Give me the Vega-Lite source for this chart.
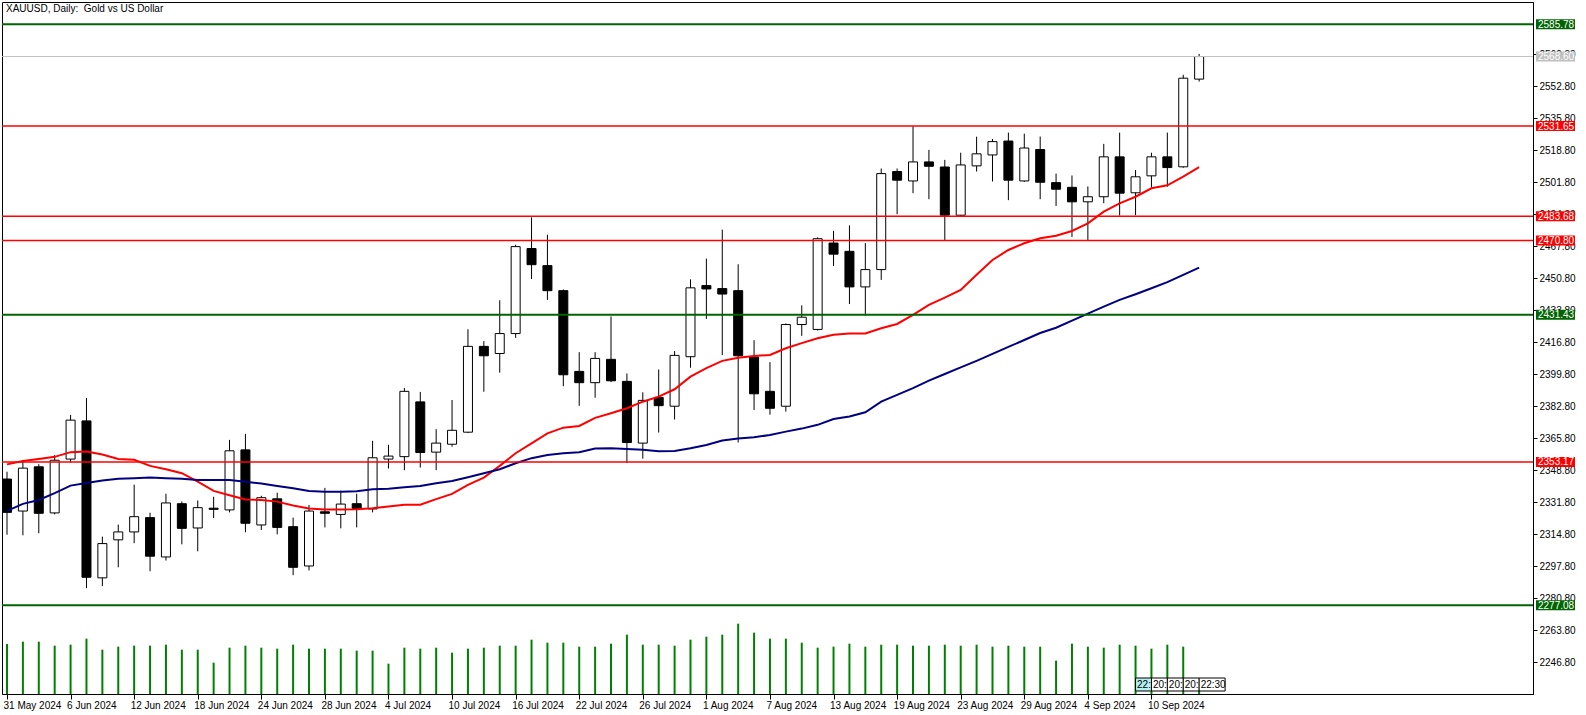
{
  "$schema": "https://vega.github.io/schema/vega-lite/v6.json",
  "width": 1531,
  "height": 692,
  "autosize": {"type": "none"},
  "padding": {"left": 2, "top": 2, "right": 53, "bottom": 21},
  "background": "#ffffff",
  "title": {"text": "XAUUSD, Daily:\u00a0 Gold vs US Dollar", "anchor": "start", "frame": "group", "offset": -11, "baseline": "alphabetic", "dx": 4, "dy": 9, "font": "Liberation Sans", "fontSize": 10, "fontWeight": "normal", "color": "#000000"},
  "config": {
    "view": {"stroke": "#000000", "strokeWidth": 1},
    "axis": {"grid": false, "labelFont": "Liberation Sans", "labelFontSize": 10, "labelColor": "#000000", "tickColor": "#000000", "domainColor": "#000000", "domainWidth": 1, "labelOverlap": false, "labelFlush": false, "labelBound": false}
  },
  "datasets": {
    "bars": [
      {"date":"2024-05-31","i":0,"open":2344.1,"high":2348.0,"low":2314.5,"close":2326.4,"ma_fast":2351.9,"ma_slow":2327.2,"volume":150000},
      {"date":"2024-06-03","i":1,"open":2327.1,"high":2354.2,"low":2314.2,"close":2349.9,"ma_fast":2353.7,"ma_slow":2330.9,"volume":157000},
      {"date":"2024-06-04","i":2,"open":2350.6,"high":2352.0,"low":2315.3,"close":2325.9,"ma_fast":2354.8,"ma_slow":2333.0,"volume":157000},
      {"date":"2024-06-05","i":3,"open":2326.1,"high":2356.8,"low":2325.3,"close":2354.1,"ma_fast":2355.9,"ma_slow":2336.6,"volume":145000},
      {"date":"2024-06-06","i":4,"open":2354.7,"high":2378.2,"low":2352.9,"close":2375.4,"ma_fast":2358.4,"ma_slow":2340.6,"volume":148000},
      {"date":"2024-06-07","i":5,"open":2375.0,"high":2387.2,"low":2286.1,"close":2291.9,"ma_fast":2358.7,"ma_slow":2342.0,"volume":166000},
      {"date":"2024-06-10","i":6,"open":2291.6,"high":2313.5,"low":2287.2,"close":2309.8,"ma_fast":2357.1,"ma_slow":2343.3,"volume":133000},
      {"date":"2024-06-11","i":7,"open":2311.8,"high":2319.9,"low":2297.2,"close":2316.0,"ma_fast":2354.8,"ma_slow":2344.2,"volume":142000},
      {"date":"2024-06-12","i":8,"open":2316.0,"high":2341.1,"low":2310.0,"close":2324.1,"ma_fast":2354.3,"ma_slow":2344.5,"volume":145000},
      {"date":"2024-06-13","i":9,"open":2323.6,"high":2326.2,"low":2295.1,"close":2303.1,"ma_fast":2351.1,"ma_slow":2344.9,"volume":145000},
      {"date":"2024-06-14","i":10,"open":2302.7,"high":2336.3,"low":2300.8,"close":2331.4,"ma_fast":2349.3,"ma_slow":2344.5,"volume":148000},
      {"date":"2024-06-17","i":11,"open":2331.0,"high":2332.2,"low":2309.4,"close":2317.9,"ma_fast":2347.2,"ma_slow":2344.2,"volume":133000},
      {"date":"2024-06-18","i":12,"open":2318.1,"high":2332.7,"low":2305.7,"close":2328.9,"ma_fast":2342.7,"ma_slow":2343.6,"volume":133000},
      {"date":"2024-06-19","i":13,"open":2328.6,"high":2334.7,"low":2323.4,"close":2328.0,"ma_fast":2337.8,"ma_slow":2343.6,"volume":94000},
      {"date":"2024-06-20","i":14,"open":2327.7,"high":2364.9,"low":2326.4,"close":2359.1,"ma_fast":2335.5,"ma_slow":2343.6,"volume":139000},
      {"date":"2024-06-21","i":15,"open":2359.6,"high":2368.1,"low":2315.8,"close":2320.6,"ma_fast":2333.2,"ma_slow":2342.7,"volume":145000},
      {"date":"2024-06-24","i":16,"open":2319.7,"high":2335.2,"low":2317.0,"close":2334.2,"ma_fast":2333.0,"ma_slow":2341.7,"volume":139000},
      {"date":"2024-06-25","i":17,"open":2333.6,"high":2336.8,"low":2314.7,"close":2318.4,"ma_fast":2332.1,"ma_slow":2340.4,"volume":136000},
      {"date":"2024-06-26","i":18,"open":2318.8,"high":2323.6,"low":2293.0,"close":2297.2,"ma_fast":2330.0,"ma_slow":2339.2,"volume":148000},
      {"date":"2024-06-27","i":19,"open":2297.9,"high":2330.3,"low":2295.5,"close":2327.1,"ma_fast":2328.4,"ma_slow":2337.8,"volume":136000},
      {"date":"2024-06-28","i":20,"open":2326.7,"high":2339.4,"low":2318.4,"close":2325.9,"ma_fast":2327.9,"ma_slow":2337.4,"volume":136000},
      {"date":"2024-07-01","i":21,"open":2325.3,"high":2337.9,"low":2317.9,"close":2330.8,"ma_fast":2327.9,"ma_slow":2337.4,"volume":136000},
      {"date":"2024-07-02","i":22,"open":2331.0,"high":2336.3,"low":2318.4,"close":2328.5,"ma_fast":2328.1,"ma_slow":2337.6,"volume":130000},
      {"date":"2024-07-03","i":23,"open":2328.2,"high":2364.4,"low":2326.4,"close":2355.4,"ma_fast":2328.6,"ma_slow":2338.7,"volume":130000},
      {"date":"2024-07-04","i":24,"open":2354.7,"high":2362.3,"low":2349.7,"close":2356.3,"ma_fast":2329.5,"ma_slow":2339.0,"volume":91000},
      {"date":"2024-07-05","i":25,"open":2356.0,"high":2392.5,"low":2348.8,"close":2390.7,"ma_fast":2330.4,"ma_slow":2339.8,"volume":139000},
      {"date":"2024-07-08","i":26,"open":2385.1,"high":2390.4,"low":2350.2,"close":2358.2,"ma_fast":2330.5,"ma_slow":2340.4,"volume":136000},
      {"date":"2024-07-09","i":27,"open":2358.4,"high":2370.6,"low":2348.8,"close":2363.2,"ma_fast":2333.4,"ma_slow":2341.9,"volume":139000},
      {"date":"2024-07-10","i":28,"open":2362.6,"high":2386.1,"low":2361.3,"close":2370.0,"ma_fast":2336.2,"ma_slow":2343.1,"volume":124000},
      {"date":"2024-07-11","i":29,"open":2369.0,"high":2423.7,"low":2368.5,"close":2414.6,"ma_fast":2341.0,"ma_slow":2345.1,"volume":136000},
      {"date":"2024-07-12","i":30,"open":2414.6,"high":2417.4,"low":2390.5,"close":2409.6,"ma_fast":2344.9,"ma_slow":2347.2,"volume":139000},
      {"date":"2024-07-15","i":31,"open":2410.8,"high":2439.1,"low":2400.6,"close":2421.4,"ma_fast":2351.1,"ma_slow":2349.3,"volume":145000},
      {"date":"2024-07-16","i":32,"open":2421.4,"high":2468.6,"low":2419.1,"close":2467.6,"ma_fast":2357.8,"ma_slow":2352.5,"volume":145000},
      {"date":"2024-07-17","i":33,"open":2466.6,"high":2483.1,"low":2450.4,"close":2458.0,"ma_fast":2363.1,"ma_slow":2355.2,"volume":163000},
      {"date":"2024-07-18","i":34,"open":2457.5,"high":2473.9,"low":2439.3,"close":2444.2,"ma_fast":2368.4,"ma_slow":2356.9,"volume":154000},
      {"date":"2024-07-19","i":35,"open":2444.2,"high":2444.8,"low":2393.4,"close":2399.5,"ma_fast":2371.4,"ma_slow":2357.8,"volume":154000},
      {"date":"2024-07-22","i":36,"open":2401.3,"high":2411.5,"low":2383.0,"close":2395.3,"ma_fast":2372.3,"ma_slow":2358.3,"volume":142000},
      {"date":"2024-07-23","i":37,"open":2395.3,"high":2411.5,"low":2387.3,"close":2408.2,"ma_fast":2376.6,"ma_slow":2360.3,"volume":142000},
      {"date":"2024-07-24","i":38,"open":2407.7,"high":2430.5,"low":2395.6,"close":2396.3,"ma_fast":2379.1,"ma_slow":2360.5,"volume":151000},
      {"date":"2024-07-25","i":39,"open":2396.0,"high":2400.2,"low":2352.6,"close":2363.5,"ma_fast":2381.7,"ma_slow":2360.1,"volume":178000},
      {"date":"2024-07-26","i":40,"open":2363.2,"high":2390.2,"low":2354.9,"close":2385.9,"ma_fast":2385.2,"ma_slow":2359.6,"volume":148000},
      {"date":"2024-07-29","i":41,"open":2387.5,"high":2402.3,"low":2368.8,"close":2383.1,"ma_fast":2387.9,"ma_slow":2358.9,"volume":148000},
      {"date":"2024-07-30","i":42,"open":2382.8,"high":2412.1,"low":2375.7,"close":2409.8,"ma_fast":2391.8,"ma_slow":2359.0,"volume":145000},
      {"date":"2024-07-31","i":43,"open":2409.1,"high":2450.2,"low":2403.2,"close":2445.7,"ma_fast":2398.5,"ma_slow":2360.5,"volume":163000},
      {"date":"2024-08-01","i":44,"open":2446.9,"high":2461.2,"low":2429.2,"close":2445.1,"ma_fast":2403.0,"ma_slow":2362.2,"volume":172000},
      {"date":"2024-08-02","i":45,"open":2445.3,"high":2476.6,"low":2410.0,"close":2442.4,"ma_fast":2406.9,"ma_slow":2364.6,"volume":178000},
      {"date":"2024-08-05","i":46,"open":2444.2,"high":2458.2,"low":2363.5,"close":2409.6,"ma_fast":2408.5,"ma_slow":2365.7,"volume":211000},
      {"date":"2024-08-06","i":47,"open":2408.9,"high":2417.9,"low":2380.8,"close":2389.4,"ma_fast":2409.5,"ma_slow":2366.3,"volume":184000},
      {"date":"2024-08-07","i":48,"open":2390.7,"high":2406.2,"low":2378.3,"close":2381.7,"ma_fast":2410.0,"ma_slow":2367.5,"volume":166000},
      {"date":"2024-08-08","i":49,"open":2382.8,"high":2426.8,"low":2379.9,"close":2426.2,"ma_fast":2413.6,"ma_slow":2369.3,"volume":166000},
      {"date":"2024-08-09","i":50,"open":2426.2,"high":2436.4,"low":2420.2,"close":2430.1,"ma_fast":2416.3,"ma_slow":2370.9,"volume":154000},
      {"date":"2024-08-12","i":51,"open":2423.6,"high":2472.5,"low":2423.0,"close":2471.8,"ma_fast":2418.9,"ma_slow":2372.9,"volume":139000},
      {"date":"2024-08-13","i":52,"open":2469.5,"high":2476.0,"low":2457.3,"close":2463.6,"ma_fast":2420.8,"ma_slow":2376.0,"volume":142000},
      {"date":"2024-08-14","i":53,"open":2465.1,"high":2478.9,"low":2437.1,"close":2446.2,"ma_fast":2421.4,"ma_slow":2377.3,"volume":151000},
      {"date":"2024-08-15","i":54,"open":2446.2,"high":2469.5,"low":2431.0,"close":2455.4,"ma_fast":2421.4,"ma_slow":2379.6,"volume":142000},
      {"date":"2024-08-16","i":55,"open":2455.4,"high":2509.1,"low":2449.9,"close":2506.4,"ma_fast":2424.2,"ma_slow":2385.2,"volume":148000},
      {"date":"2024-08-19","i":56,"open":2507.5,"high":2509.1,"low":2484.8,"close":2502.9,"ma_fast":2426.5,"ma_slow":2388.8,"volume":148000},
      {"date":"2024-08-20","i":57,"open":2502.5,"high":2531.65,"low":2496.0,"close":2512.6,"ma_fast":2431.3,"ma_slow":2392.4,"volume":145000},
      {"date":"2024-08-21","i":58,"open":2512.6,"high":2519.0,"low":2492.8,"close":2510.3,"ma_fast":2436.6,"ma_slow":2396.4,"volume":145000},
      {"date":"2024-08-22","i":59,"open":2509.9,"high":2513.7,"low":2470.8,"close":2484.3,"ma_fast":2440.5,"ma_slow":2399.9,"volume":148000},
      {"date":"2024-08-23","i":60,"open":2484.3,"high":2517.5,"low":2483.68,"close":2511.0,"ma_fast":2444.6,"ma_slow":2403.4,"volume":145000},
      {"date":"2024-08-26","i":61,"open":2510.5,"high":2526.0,"low":2507.5,"close":2516.9,"ma_fast":2452.6,"ma_slow":2406.9,"volume":148000},
      {"date":"2024-08-27","i":62,"open":2516.3,"high":2524.8,"low":2502.2,"close":2523.4,"ma_fast":2460.5,"ma_slow":2410.6,"volume":142000},
      {"date":"2024-08-28","i":63,"open":2523.7,"high":2528.2,"low":2492.3,"close":2502.9,"ma_fast":2465.8,"ma_slow":2414.3,"volume":145000},
      {"date":"2024-08-29","i":64,"open":2502.5,"high":2527.6,"low":2502.0,"close":2520.0,"ma_fast":2469.4,"ma_slow":2418.0,"volume":142000},
      {"date":"2024-08-30","i":65,"open":2519.2,"high":2526.1,"low":2492.8,"close":2501.8,"ma_fast":2472.0,"ma_slow":2421.7,"volume":142000},
      {"date":"2024-09-02","i":66,"open":2501.6,"high":2506.4,"low":2489.2,"close":2498.1,"ma_fast":2473.4,"ma_slow":2424.5,"volume":100000},
      {"date":"2024-09-03","i":67,"open":2499.1,"high":2505.4,"low":2472.7,"close":2491.4,"ma_fast":2475.9,"ma_slow":2428.3,"volume":151000},
      {"date":"2024-09-04","i":68,"open":2491.4,"high":2499.6,"low":2470.9,"close":2494.1,"ma_fast":2480.0,"ma_slow":2432.0,"volume":142000},
      {"date":"2024-09-05","i":69,"open":2494.1,"high":2522.2,"low":2490.7,"close":2515.3,"ma_fast":2486.2,"ma_slow":2435.7,"volume":139000},
      {"date":"2024-09-06","i":70,"open":2515.3,"high":2528.2,"low":2484.1,"close":2496.0,"ma_fast":2490.6,"ma_slow":2439.3,"volume":148000},
      {"date":"2024-09-09","i":71,"open":2496.2,"high":2508.3,"low":2484.3,"close":2504.7,"ma_fast":2494.1,"ma_slow":2442.3,"volume":145000},
      {"date":"2024-09-10","i":72,"open":2505.2,"high":2517.5,"low":2499.0,"close":2515.3,"ma_fast":2498.6,"ma_slow":2445.5,"volume":136000},
      {"date":"2024-09-11","i":73,"open":2515.3,"high":2528.2,"low":2499.4,"close":2509.6,"ma_fast":2500.2,"ma_slow":2448.7,"volume":148000},
      {"date":"2024-09-12","i":74,"open":2510.0,"high":2558.9,"low":2509.5,"close":2557.1,"ma_fast":2504.8,"ma_slow":2452.6,"volume":142000},
      {"date":"2024-09-13","i":75,"open":2556.6,"high":2570.0,"low":2555.3,"close":2568.6,"ma_fast":2509.8,"ma_slow":2456.4,"volume":20000}
    ],
    "levels": [
      {"price": 2585.78, "kind": "major"},
      {"price": 2568.60, "kind": "bid"},
      {"price": 2531.65, "kind": "minor"},
      {"price": 2483.68, "kind": "minor"},
      {"price": 2470.80, "kind": "minor"},
      {"price": 2431.43, "kind": "major"},
      {"price": 2353.17, "kind": "minor"},
      {"price": 2277.08, "kind": "major"}
    ],
    "clock": [
      {"i": 71, "label": "22:"},
      {"i": 72, "label": "20:"},
      {"i": 73, "label": "20:"},
      {"i": 74, "label": "20:"}
    ],
    "clocklast": [
      {"i": 75, "label": "22:30"}
    ]
  },
  "encoding": {
    "x": {
      "field": "i", "type": "quantitative",
      "scale": {"domain": [0, 95.69], "nice": false, "zero": false},
      "axis": {
        "title": null,
        "values": [0,4,8,12,16,20,24,28,32,36,40,44,48,52,56,60,64,68,72],
        "labelExpr": "['31 May 2024','6 Jun 2024','12 Jun 2024','18 Jun 2024','24 Jun 2024','28 Jun 2024','4 Jul 2024','10 Jul 2024','16 Jul 2024','22 Jul 2024','26 Jul 2024','1 Aug 2024','7 Aug 2024','13 Aug 2024','19 Aug 2024','23 Aug 2024','29 Aug 2024','4 Sep 2024','10 Sep 2024'][round(datum.value/4)]",
        "tickSize": 5,
        "labelAlign": "left",
        "labelBaseline": "alphabetic",
        "labelPadding": 9,
        "labelOffset": -4,
        "labelOverlap": false,
        "labelFlush": false,
        "labelBound": false
      }
    }
  },
  "layer": [
    {
      "layer": [
        {
          "data": {"name": "bars"},
          "mark": {"type": "rule", "color": "#000000", "strokeWidth": 1, "clip": true},
          "encoding": {
            "y": {
              "field": "low", "type": "quantitative",
              "scale": {"domain": [2229.88, 2597.58], "nice": false, "zero": false},
              "axis": {
                "title": null,
                "orient": "right",
                "values": [2246.8,2263.8,2280.8,2297.8,2314.8,2331.8,2348.8,2365.8,2382.8,2399.8,2416.8,2433.8,2450.8,2467.8,2484.8,2501.8,2518.8,2535.8,2552.8,2569.8],
                "format": ".2f",
                "tickSize": 4,
                "labelPadding": 2,
                "labelBaseline": "middle",
                "labelOverlap": false,
                "labelFlush": false,
                "labelBound": false
              }
            },
            "y2": {"field": "high"}
          }
        },
        {
          "data": {"name": "bars"},
          "mark": {"type": "rect", "stroke": "#000000", "strokeWidth": 1, "xOffset": -4.5, "x2Offset": 4.5, "clip": true},
          "encoding": {
            "x2": {"field": "i"},
            "y": {"field": "open", "type": "quantitative", "scale": {"domain": [2229.88, 2597.58], "nice": false, "zero": false}, "axis": {"title": null, "orient": "right", "values": [2246.8,2263.8,2280.8,2297.8,2314.8,2331.8,2348.8,2365.8,2382.8,2399.8,2416.8,2433.8,2450.8,2467.8,2484.8,2501.8,2518.8,2535.8,2552.8,2569.8], "format": ".2f", "tickSize": 4, "labelPadding": 2, "labelBaseline": "middle", "labelOverlap": false, "labelFlush": false, "labelBound": false}},
            "y2": {"field": "close"},
            "fill": {"condition": {"test": "datum.close >= datum.open", "value": "#ffffff"}, "value": "#000000"}
          }
        },
        {
          "data": {"name": "bars"},
          "mark": {"type": "line", "color": "#ff0000", "strokeWidth": 2, "clip": true},
          "encoding": {
            "y": {"field": "ma_fast", "type": "quantitative", "scale": {"domain": [2229.88, 2597.58], "nice": false, "zero": false}, "axis": {"title": null, "orient": "right", "values": [2246.8,2263.8,2280.8,2297.8,2314.8,2331.8,2348.8,2365.8,2382.8,2399.8,2416.8,2433.8,2450.8,2467.8,2484.8,2501.8,2518.8,2535.8,2552.8,2569.8], "format": ".2f", "tickSize": 4, "labelPadding": 2, "labelBaseline": "middle", "labelOverlap": false, "labelFlush": false, "labelBound": false}}
          }
        },
        {
          "data": {"name": "bars"},
          "mark": {"type": "line", "color": "#000080", "strokeWidth": 2, "clip": true},
          "encoding": {
            "y": {"field": "ma_slow", "type": "quantitative", "scale": {"domain": [2229.88, 2597.58], "nice": false, "zero": false}, "axis": {"title": null, "orient": "right", "values": [2246.8,2263.8,2280.8,2297.8,2314.8,2331.8,2348.8,2365.8,2382.8,2399.8,2416.8,2433.8,2450.8,2467.8,2484.8,2501.8,2518.8,2535.8,2552.8,2569.8], "format": ".2f", "tickSize": 4, "labelPadding": 2, "labelBaseline": "middle", "labelOverlap": false, "labelFlush": false, "labelBound": false}}
          }
        },
        {
          "data": {"name": "levels"},
          "mark": {"type": "rule"},
          "encoding": {
            "x": null,
            "y": {"field": "price", "type": "quantitative", "scale": {"domain": [2229.88, 2597.58], "nice": false, "zero": false}, "axis": {"title": null, "orient": "right", "values": [2246.8,2263.8,2280.8,2297.8,2314.8,2331.8,2348.8,2365.8,2382.8,2399.8,2416.8,2433.8,2450.8,2467.8,2484.8,2501.8,2518.8,2535.8,2552.8,2569.8], "format": ".2f", "tickSize": 4, "labelPadding": 2, "labelBaseline": "middle", "labelOverlap": false, "labelFlush": false, "labelBound": false}},
            "color": {"field": "kind", "type": "nominal", "scale": {"domain": ["major", "minor", "bid"], "range": ["#006400", "#ff0000", "#c0c0c0"]}, "legend": null},
            "strokeWidth": {"field": "kind", "type": "nominal", "scale": {"domain": ["major", "minor", "bid"], "range": [2, 1, 1]}, "legend": null}
          }
        },
        {
          "data": {"name": "levels"},
          "mark": {"type": "rect", "xOffset": 3, "x2Offset": 42, "yOffset": -5, "y2Offset": 5},
          "encoding": {
            "x": {"value": "width"},
            "x2": {"value": "width"},
            "y": {"field": "price", "type": "quantitative", "scale": {"domain": [2229.88, 2597.58], "nice": false, "zero": false}, "axis": {"title": null, "orient": "right", "values": [2246.8,2263.8,2280.8,2297.8,2314.8,2331.8,2348.8,2365.8,2382.8,2399.8,2416.8,2433.8,2450.8,2467.8,2484.8,2501.8,2518.8,2535.8,2552.8,2569.8], "format": ".2f", "tickSize": 4, "labelPadding": 2, "labelBaseline": "middle", "labelOverlap": false, "labelFlush": false, "labelBound": false}},
            "y2": {"field": "price"},
            "fill": {"field": "kind", "type": "nominal", "scale": {"domain": ["major", "minor", "bid"], "range": ["#006400", "#ff0000", "#c0c0c0"]}, "legend": null}
          }
        },
        {
          "data": {"name": "levels"},
          "mark": {"type": "text", "align": "left", "baseline": "middle", "dx": 5, "dy": 0.5, "font": "Liberation Sans", "fontSize": 10, "color": "#ffffff"},
          "encoding": {
            "x": {"value": "width"},
            "y": {"field": "price", "type": "quantitative", "scale": {"domain": [2229.88, 2597.58], "nice": false, "zero": false}, "axis": {"title": null, "orient": "right", "values": [2246.8,2263.8,2280.8,2297.8,2314.8,2331.8,2348.8,2365.8,2382.8,2399.8,2416.8,2433.8,2450.8,2467.8,2484.8,2501.8,2518.8,2535.8,2552.8,2569.8], "format": ".2f", "tickSize": 4, "labelPadding": 2, "labelBaseline": "middle", "labelOverlap": false, "labelFlush": false, "labelBound": false}},
            "text": {"field": "price", "type": "quantitative", "format": ".2f"}
          }
        }
      ]
    },
    {
      "layer": [
        {
          "data": {"name": "bars"},
          "mark": {"type": "bar", "width": 2, "color": "#008000"},
          "encoding": {
            "y": {"field": "volume", "type": "quantitative", "stack": null, "scale": {"domain": [0, 2076000], "nice": false, "zero": true}, "axis": null}
          }
        },
        {
          "data": {"name": "clock"},
          "mark": {"type": "rect", "stroke": "#000000", "strokeWidth": 1, "x2Offset": 16, "yOffset": -16, "y2Offset": -3},
          "encoding": {
            "x2": {"field": "i"},
            "y": {"value": "height"},
            "y2": {"value": "height"},
            "fill": {"condition": {"test": "datum.i == 71", "value": "#b4f0f0"}, "value": "#ffffff"}
          }
        },
        {
          "data": {"name": "clocklast"},
          "mark": {"type": "rect", "stroke": "#000000", "strokeWidth": 1, "fill": "#ffffff", "x2Offset": 26, "yOffset": -16, "y2Offset": -3},
          "encoding": {
            "x2": {"field": "i"},
            "y": {"value": "height"},
            "y2": {"value": "height"}
          }
        },
        {
          "data": {"name": "clock"},
          "mark": {"type": "text", "align": "left", "baseline": "middle", "dx": 1.5, "yOffset": -9, "font": "Liberation Sans", "fontSize": 10, "color": "#000000"},
          "encoding": {
            "y": {"value": "height"},
            "text": {"field": "label"}
          }
        },
        {
          "data": {"name": "clocklast"},
          "mark": {"type": "text", "align": "left", "baseline": "middle", "dx": 1.5, "yOffset": -9, "font": "Liberation Sans", "fontSize": 10, "color": "#000000"},
          "encoding": {
            "y": {"value": "height"},
            "text": {"field": "label"}
          }
        }
      ]
    }
  ],
  "resolve": {"scale": {"y": "independent"}, "axis": {"y": "independent"}}
}
